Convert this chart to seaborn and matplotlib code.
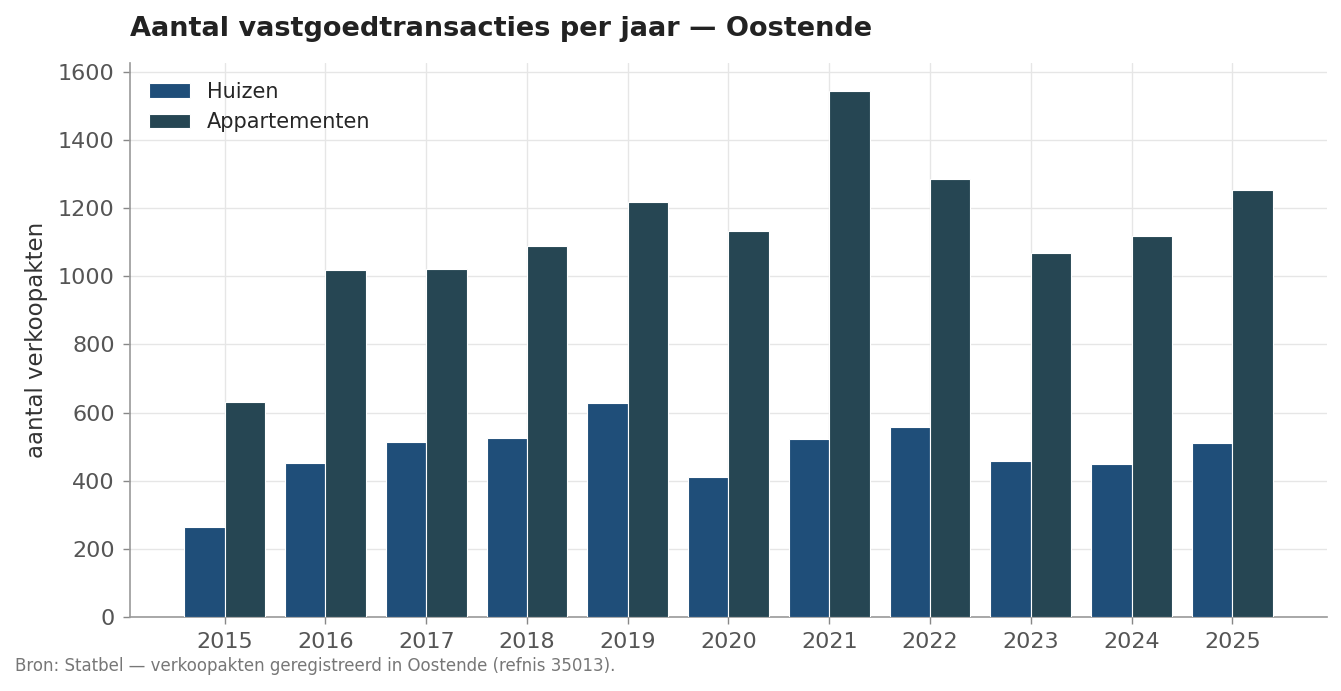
import matplotlib
matplotlib.use('Agg')
import matplotlib.pyplot as plt
import pandas as pd
import seaborn as sns

# Values
years = ['2015', '2016', '2017', '2018', '2019', '2020',
         '2021', '2022', '2023', '2024', '2025']
huizen = [265, 453, 515, 524, 628, 411, 523, 558, 458, 449, 511]
appartementen = [630, 1019, 1022, 1089, 1218, 1133, 1544, 1286, 1069, 1119, 1254]
series_names = ['Huizen', 'Appartementen']
series_colors = ['#1f4e79', '#264653']

df = pd.DataFrame({
    'jaar': years * 2,
    'type': [series_names[0]] * len(years) + [series_names[1]] * len(years),
    'aantal': huizen + appartementen,
})

sns.set_style('white')
plt.rcParams['font.family'] = ['DejaVu Sans']

fig = plt.figure(figsize=(13.41, 6.91), dpi=100)
ax = fig.add_axes([0.0969, 0.1071, 0.8927, 0.8017])

sns.barplot(data=df, x='jaar', y='aantal', hue='type', order=years,
            hue_order=series_names, palette=series_colors, width=0.8,
            saturation=1, edgecolor='white', linewidth=0.8, ax=ax, zorder=3)

ax.set_xlim(-0.94, len(years) - 0.06)
ax.set_ylim(0, 1626)
ax.set_yticks(range(0, 1601, 200))
ax.grid(True, axis='both', color='#e6e6e6', linewidth=1, zorder=0)
ax.set_axisbelow(True)

for side in ['top', 'right']:
    ax.spines[side].set_visible(False)
for side in ['left', 'bottom']:
    ax.spines[side].set_color('#999999')
    ax.spines[side].set_linewidth(1.2)

ax.tick_params(axis='both', labelsize=16, labelcolor='#555555',
               color='#888888', length=5, width=1, pad=6, left=True, bottom=True)
ax.set_xlabel('')
ax.set_ylabel('aantal verkoopakten', fontsize=16.5, color='#333333', labelpad=7)

ax.legend(title=None, loc='upper left', frameon=False, fontsize=15,
          bbox_to_anchor=(0.0, 1.0), handlelength=2.0, borderaxespad=0.5,
          labelspacing=0.5)

fig.text(0.0969, 0.958, 'Aantal vastgoedtransacties per jaar \u2014 Oostende',
         fontsize=19.5, fontweight='bold', color='#222222', ha='left', va='center')
fig.text(0.011, 0.036,
         'Bron: Statbel \u2014 verkoopakten geregistreerd in Oostende (refnis 35013).',
         fontsize=12, color='#777777', ha='left', va='center')

fig.savefig('out.png', dpi=100)
